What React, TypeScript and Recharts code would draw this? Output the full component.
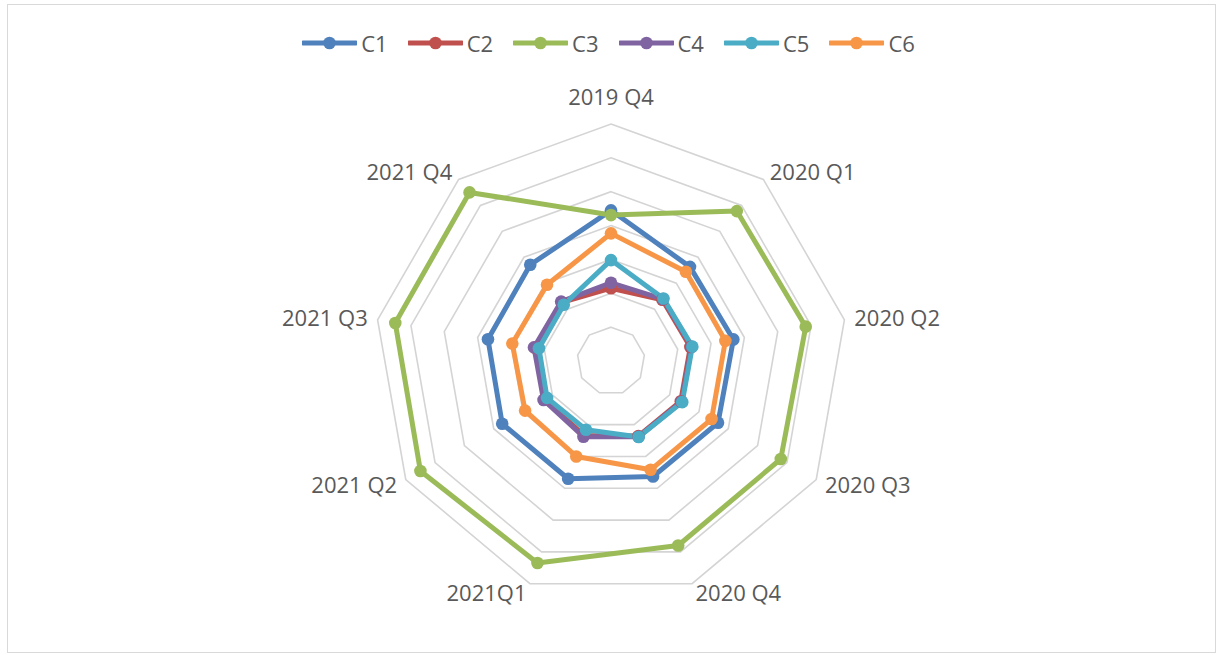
import React from "react";
import { RadarChart, Radar, PolarGrid, PolarAngleAxis, PolarRadiusAxis, Legend } from "recharts";

const categories = ["2019 Q4", "2020 Q1", "2020 Q2", "2020 Q3", "2020 Q4", "2021Q1", "2021 Q2", "2021 Q3", "2021 Q4"];

const c1 = [4.45, 3.63, 3.67, 3.65, 3.63, 3.7, 3.71, 3.69, 3.71];
const c2 = [2.15, 2.36, 2.38, 2.38, 2.36, 2.34, 2.27, 2.28, 2.26];
const c3 = [4.31, 5.78, 5.84, 5.79, 5.8, 6.35, 6.5, 6.47, 6.5];
const c4 = [2.31, 2.39, 2.42, 2.41, 2.38, 2.38, 2.3, 2.31, 2.29];
const c5 = [2.98, 2.41, 2.44, 2.43, 2.39, 2.16, 2.18, 2.16, 2.17];
const c6 = [3.77, 3.44, 3.43, 3.43, 3.42, 3.0, 2.93, 2.96, 2.94];

const seriesNames = ["C1", "C2", "C3", "C4", "C5", "C6"];
const seriesValues = [c1, c2, c3, c4, c5, c6];
const colors = ["#4f81bd", "#c0504d", "#9bbb59", "#8064a2", "#4bacc6", "#f79646"];

const data = categories.map((cat, i) => {
  const row: any = { cat };
  seriesNames.forEach((s, j) => (row[s] = seriesValues[j][i]));
  return row;
});

const CX = 611;
const CY = 361;
const LABEL_R = 247;
const FONT = "'Open Sans', sans-serif";

function AngleTick(props: any) {
  const { x, y, payload } = props;
  const cx = props.cx ?? CX;
  const cy = props.cy ?? CY;
  const dx = x - cx;
  const dy = y - cy;
  const len = Math.sqrt(dx * dx + dy * dy) || 1;
  const ux = dx / len;
  const uy = dy / len;
  let px = cx + ux * LABEL_R;
  let py = cy + uy * LABEL_R;
  let anchor: "start" | "end" | "middle" = "middle";
  if (ux > 0.1) anchor = "start";
  else if (ux < -0.1) anchor = "end";
  else py -= 17;
  return (
    <text x={px} y={py - 1} textAnchor={anchor} dominantBaseline="central" fill="#595959" fontSize={22} fontFamily={FONT}>
      {payload.value}
    </text>
  );
}

// dots drawn as plain circles at the points the Radar computes
const makeDot = (color: string) => (p: any) => (
  <circle key={`d-${p.index}`} cx={p.cx} cy={p.cy} r={6.3} fill={color} stroke="none" />
);

function LegendContent() {
  return (
    <div style={{ display: "flex", justifyContent: "center", alignItems: "center", fontFamily: FONT, fontSize: 22, color: "#595959" }}>
      {seriesNames.map((s, i) => (
        <div key={s} style={{ display: "flex", alignItems: "center", marginRight: i < seriesNames.length - 1 ? 20 : 0 }}>
          <svg width={55} height={14}>
            <line x1={1} y1={7} x2={54} y2={7} stroke={colors[i]} strokeWidth={5} strokeLinecap="round" />
            <circle cx={27.5} cy={7} r={6.3} fill={colors[i]} />
          </svg>
          <span style={{ marginLeft: 4, lineHeight: "26px" }}>{s}</span>
        </div>
      ))}
    </div>
  );
}

export default function App() {
  return (
    <div style={{ position: "absolute", left: 0, top: 0, width: 1217, height: 655, background: "#fff" }}>
      <div style={{ position: "absolute", left: 7, top: 4, width: 1207, height: 647, border: "1px solid #d9d9d9" }} />
      <div style={{ position: "absolute", left: 0, top: 0 }}>
        <RadarChart width={1217} height={655} data={data} cx={CX} cy={CY} outerRadius={237} margin={{ top: 0, right: 0, bottom: 0, left: 0 }}>
          <PolarGrid gridType="polygon" radialLines={false} stroke="#d4d4d4" strokeWidth={1.6} />
          <PolarAngleAxis dataKey="cat" tick={AngleTick} tickLine={false} axisLine={false} />
          <PolarRadiusAxis domain={[0, 7]} tickCount={8} tick={false} axisLine={false} angle={90} />
          {seriesNames.map((s, i) => (
            <Radar
              key={s}
              name={s}
              dataKey={s}
              stroke={colors[i]}
              strokeWidth={5}
              strokeLinejoin="round"
              fill="none"
              fillOpacity={0}
              dot={makeDot(colors[i])}
              isAnimationActive={false}
            />
          ))}
          <Legend verticalAlign="top" align="center" content={LegendContent} wrapperStyle={{ top: 30, left: 0, width: 1217 }} />
        </RadarChart>
      </div>
    </div>
  );
}
